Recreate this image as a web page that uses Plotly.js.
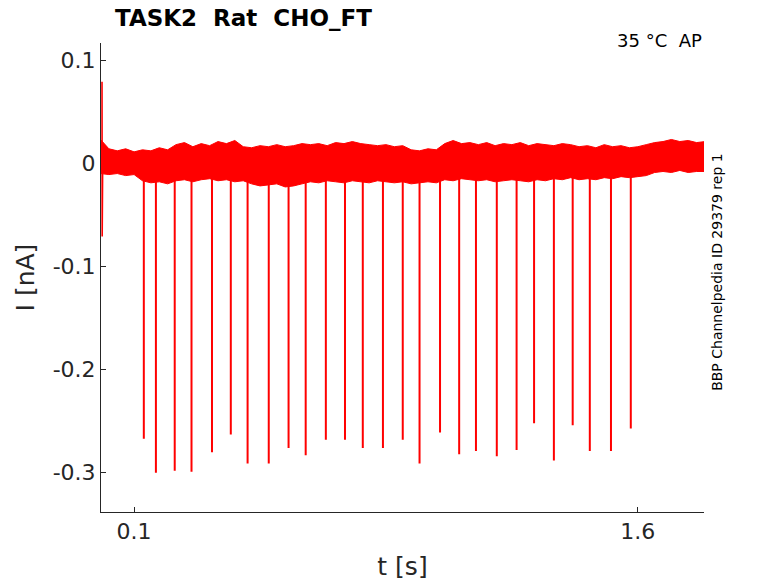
<!DOCTYPE html>
<html>
<head>
<meta charset="utf-8">
<script src="https://cdn.plot.ly/plotly-3.0.1.min.js"></script>
<style>
  html, body { margin: 0; padding: 0; background: #fff; }
  #chart { width: 778px; height: 583px; }
</style>
</head>
<body>
<div id="chart"></div>
<script>
// noise band of the overlaid sweeps, read as upper / lower envelope (nA)
const tBand = [
  0.000, 0.025, 0.050, 0.075, 0.100, 0.125, 0.150, 0.175, 0.200, 0.225,
  0.250, 0.275, 0.300, 0.325, 0.350, 0.375, 0.400, 0.425, 0.450, 0.475,
  0.500, 0.525, 0.550, 0.575, 0.600, 0.625, 0.650, 0.675, 0.700, 0.725,
  0.750, 0.775, 0.800, 0.825, 0.850, 0.875, 0.900, 0.925, 0.950, 0.975,
  1.000, 1.025, 1.050, 1.075, 1.100, 1.125, 1.150, 1.175, 1.200, 1.225,
  1.250, 1.275, 1.300, 1.325, 1.350, 1.375, 1.400, 1.425, 1.450, 1.475,
  1.500, 1.525, 1.550, 1.575, 1.600, 1.625, 1.650, 1.675, 1.700, 1.725,
  1.750, 1.775, 1.800
];
const bandUpper = [
  0.023, 0.014, 0.012, 0.014, 0.011, 0.013, 0.012, 0.015, 0.013, 0.018,
  0.020, 0.016, 0.019, 0.017, 0.021, 0.019, 0.022, 0.016, 0.015, 0.017,
  0.016, 0.018, 0.016, 0.017, 0.019, 0.018, 0.019, 0.017, 0.020, 0.019,
  0.021, 0.019, 0.018, 0.017, 0.018, 0.016, 0.017, 0.013, 0.012, 0.014,
  0.013, 0.019, 0.022, 0.019, 0.020, 0.018, 0.020, 0.017, 0.019, 0.018,
  0.020, 0.017, 0.019, 0.018, 0.017, 0.019, 0.018, 0.016, 0.017, 0.015,
  0.018, 0.016, 0.017, 0.015, 0.016, 0.018, 0.020, 0.021, 0.023, 0.021,
  0.022, 0.020, 0.021
];
const bandLower = [
  -0.010, -0.011, -0.010, -0.012, -0.011, -0.017, -0.019, -0.018, -0.020, -0.017,
  -0.016, -0.018, -0.016, -0.015, -0.017, -0.016, -0.018, -0.017, -0.020, -0.022,
  -0.021, -0.020, -0.023, -0.022, -0.020, -0.018, -0.019, -0.017, -0.018, -0.019,
  -0.017, -0.018, -0.019, -0.017, -0.018, -0.019, -0.018, -0.020, -0.019, -0.018,
  -0.019, -0.016, -0.017, -0.015, -0.016, -0.017, -0.016, -0.018, -0.017, -0.016,
  -0.017, -0.018, -0.016, -0.017, -0.015, -0.016, -0.014, -0.016, -0.015, -0.016,
  -0.014, -0.015, -0.013, -0.014, -0.013, -0.012, -0.009, -0.008, -0.009, -0.007,
  -0.009, -0.008, -0.008
];

// capacitive transient right at the start
const tTrans = [0.0045, 0.005, 0.0055, 0.0065];
const iTrans = [0.079, -0.071, 0.023, 0.0];

// action-potential spikes: time (s) and peak current (nA)
const spikeT = [
  0.129, 0.165, 0.221, 0.271, 0.332, 0.388, 0.438, 0.501, 0.560, 0.611,
  0.671, 0.728, 0.781, 0.841, 0.900, 0.950, 1.011, 1.068, 1.118, 1.180,
  1.239, 1.291, 1.350, 1.406, 1.457, 1.520, 1.579
];
const spikeI = [
  -0.267, -0.300, -0.298, -0.299, -0.280, -0.263, -0.291, -0.291, -0.276, -0.283,
  -0.268, -0.268, -0.276, -0.276, -0.268, -0.291, -0.261, -0.282, -0.279, -0.284,
  -0.278, -0.252, -0.288, -0.254, -0.279, -0.279, -0.257
];

const xTickVals = [0.1, 1.6];
const xTickText = ['0.1', '1.6'];
const yTickVals = [0.1, 0, -0.1, -0.2, -0.3];
const yTickText = ['0.1', '0', '-0.1', '-0.2', '-0.3'];

const red = '#ff0000';
const axisGrey = '#262626';

// spikes as one broken line
const sx = [], sy = [];
spikeT.forEach((t, i) => {
  sx.push(t, t, null);
  sy.push(0, spikeI[i], null);
});

const upper = {
  x: tBand, y: bandUpper, type: 'scatter', mode: 'lines',
  line: { color: red, width: 1 }, hoverinfo: 'skip'
};
const lower = {
  x: tBand, y: bandLower, type: 'scatter', mode: 'lines',
  fill: 'tonexty', fillcolor: red,
  line: { color: red, width: 1 }, hoverinfo: 'skip'
};
const transient = {
  x: tTrans, y: iTrans, type: 'scatter', mode: 'lines',
  line: { color: red, width: 1.6 }
};
const spikes = {
  x: sx, y: sy, type: 'scatter', mode: 'lines',
  line: { color: red, width: 2 }
};

const axisCommon = {
  showline: true, linecolor: axisGrey, linewidth: 1,
  ticks: 'inside', ticklen: 5, tickcolor: axisGrey, tickwidth: 1,
  showgrid: false, zeroline: false, layer: 'below traces',
  tickfont: { family: 'DejaVu Sans', size: 22, color: axisGrey },
  tickmode: 'array'
};

const layout = {
  width: 778, height: 583,
  margin: { l: 101, r: 74, t: 43, b: 71 },
  paper_bgcolor: '#fff', plot_bgcolor: '#fff',
  showlegend: false,
  font: { family: 'DejaVu Sans', color: axisGrey },
  title: {
    text: 'TASK2\u00a0\u00a0Rat\u00a0\u00a0CHO_FT',
    font: { family: 'DejaVu Sans', size: 23, color: '#000', weight: 'bold' },
    xref: 'container', x: 115 / 778, xanchor: 'left',
    yref: 'container', y: 1 - 18 / 583, yanchor: 'middle'
  },
  xaxis: Object.assign({}, axisCommon, {
    range: [0.0015, 1.797],
    tickvals: xTickVals, ticktext: xTickText,
    title: { text: 't [s]', font: { family: 'DejaVu Sans', size: 25, color: axisGrey }, standoff: 14 }
  }),
  yaxis: Object.assign({}, axisCommon, {
    range: [-0.338, 0.1165],
    tickvals: yTickVals, ticktext: yTickText,
    title: { text: 'I [nA]', font: { family: 'DejaVu Sans', size: 25, color: axisGrey }, standoff: 10 }
  }),
  annotations: [
    {
      text: '35 °C\u00a0\u00a0AP', showarrow: false,
      xref: 'paper', yref: 'paper', x: 1, y: 1.006,
      xanchor: 'right', yanchor: 'middle',
      font: { family: 'DejaVu Sans', size: 18, color: '#000' }
    },
    {
      text: 'BBP Channelpedia ID 29379 rep 1', showarrow: false,
      xref: 'paper', yref: 'paper', x: (717 - 101) / 603, y: 0.512,
      xanchor: 'center', yanchor: 'middle', textangle: -90,
      font: { family: 'DejaVu Sans', size: 14, color: '#000' }
    }
  ]
};

Plotly.newPlot('chart', [upper, lower, transient, spikes], layout, { displayModeBar: false, staticPlot: true });
</script>
</body>
</html>
